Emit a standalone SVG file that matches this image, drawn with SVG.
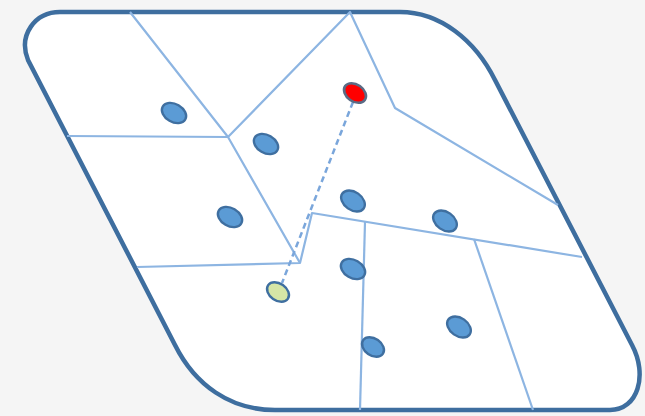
<svg xmlns="http://www.w3.org/2000/svg" width="645" height="416" viewBox="0 0 645 416">
<style>
.cell{fill:none;stroke:#8db5e2;stroke-width:2.2;stroke-linejoin:round}
.dot{fill:#5b9bd5;stroke:#3f6fa0;stroke-width:2.4}
</style>
<rect width="645" height="416" fill="#f5f5f5"/>
<g id="frame">
<path d="M60,12 L400,12 C440,12 475,40 495,80 L632,345 C648,375 638,410 610,410 L275,410 C230,410 195,385 175,345 L28,60 C18,35 35,12 60,12 Z" fill="#ffffff" stroke="#3e6e9f" stroke-width="4.5"/>
</g>
<g id="connectors">
<polyline class="cell" points="130,12 228,137 300,263"/>
<polyline class="cell" points="67,136 228,137 350,12 395,108 558,205"/>
<polyline class="cell" points="137,267 300,263 312,213 582,257"/>
<line class="cell" x1="365" y1="222" x2="360" y2="410"/>
<line class="cell" x1="474" y1="239" x2="533" y2="410"/>
<line x1="353" y1="102" x2="282" y2="283" stroke="#7aa6db" stroke-width="2.5" stroke-dasharray="6,4"/>
</g>
<g id="p1"><ellipse class="dot" cx="174" cy="113" rx="13" ry="9" transform="rotate(30 174 113)"/></g>
<g id="p2"><ellipse class="dot" cx="266" cy="144" rx="13" ry="9" transform="rotate(30 266 144)"/></g>
<g id="p3"><ellipse cx="355" cy="93" rx="12" ry="8.5" transform="rotate(35 355 93)" fill="#ff0000" stroke="#5a6b85" stroke-width="2.6"/></g>
<g id="p4"><ellipse class="dot" cx="230" cy="217" rx="13" ry="9" transform="rotate(30 230 217)"/></g>
<g id="p5"><ellipse class="dot" cx="353" cy="201" rx="13" ry="9" transform="rotate(35 353 201)"/></g>
<g id="p6"><ellipse class="dot" cx="445" cy="221" rx="13" ry="9" transform="rotate(35 445 221)"/></g>
<g id="p7"><ellipse class="dot" cx="353" cy="269" rx="13" ry="9" transform="rotate(30 353 269)"/></g>
<g id="p8"><ellipse cx="278" cy="292" rx="12" ry="8.5" transform="rotate(35 278 292)" fill="#d6e6a6" stroke="#3f6fa0" stroke-width="2.4"/></g>
<g id="p9"><ellipse class="dot" cx="459" cy="327" rx="13" ry="9" transform="rotate(35 459 327)"/></g>
<g id="p10"><ellipse class="dot" cx="373" cy="347" rx="12" ry="8.5" transform="rotate(35 373 347)"/></g>
</svg>
